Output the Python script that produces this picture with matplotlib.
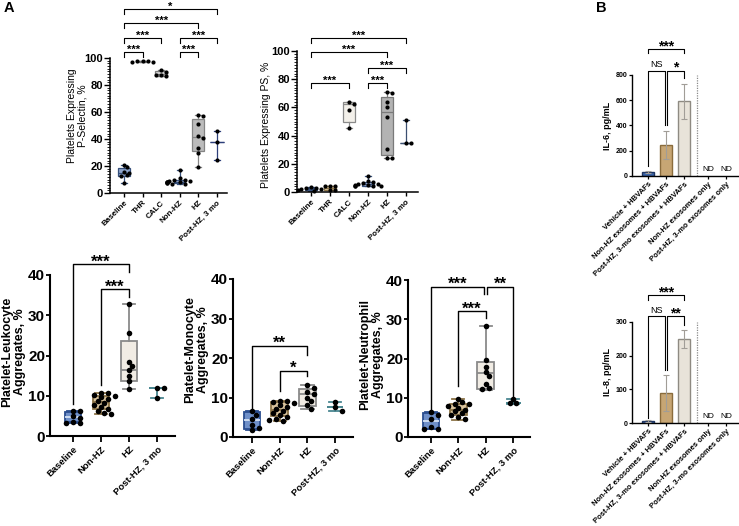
import matplotlib
matplotlib.use("Agg")
import matplotlib.pyplot as plt
import numpy as np

plt.rcParams['font.family'] = ['Liberation Sans', 'DejaVu Sans']

# ---------------- DATA ----------------
top_cats = ['Baseline', 'THR', 'CALC', 'Non-HZ', 'HZ', 'Post-HZ, 3 mo']
bot_cats = ['Baseline', 'Non-HZ', 'HZ', 'Post-HZ, 3 mo']
il_cats = ['Vehicle + HBVAFs', 'Non-HZ exosomes + HBVAFs', 'Post-HZ, 3-mo exosomes + HBVAFs',
           'Non-HZ exosomes only', 'Post-HZ, 3-mo exosomes only']

# P-selectin
psel_pts = [[21, 19, 15.5, 14.8, 13, 12.5, 7.5],
            [98, 97.8, 97.5, 97.3, 97.1],
            [90.8, 89.8, 87.6, 87.2, 86.8],
            [17, 11, 10, 9.5, 9, 9, 8.5, 8.5, 8, 8, 7.5, 7.5, 7, 7],
            [58, 57, 51, 42, 41, 33, 30, 19.5],
            [46, 37.5, 24.5]]
psel_q1 = [12.5, 97.2, 87.0, 7.5, 31, 37.5]
psel_med = [15, 97.5, 88.0, 8.5, 41.5, 37.5]
psel_q3 = [18.5, 97.8, 90.5, 9.5, 55, 37.5]
psel_lo = [7.5, 97.1, 86.8, 7, 19.5, 24.5]
psel_hi = [21, 98, 91, 17, 58, 46]

# PS
pss_pts = [[3.5, 3, 2.5, 2, 2, 1.5, 1],
           [4.6, 4.6, 4.4, 1.3, 1.1],
           [63.5, 62.5, 58.5, 45.7],
           [11.2, 8, 7, 6.5, 6, 5.5, 5, 5, 4.5, 4.5, 4, 4],
           [71, 70.3, 64, 60.5, 53, 30.7, 24, 24],
           [51.2, 35, 35]]
pss_q1 = [1.5, 1.2, 49.5, 4.5, 26, 35]
pss_med = [2, 2.5, 62.5, 5.5, 56.4, 35]
pss_q3 = [3, 4.5, 63.8, 7, 67.6, 35]
pss_lo = [1, 1.1, 45.7, 4, 24, 35]
pss_hi = [3.8, 4.6, 63.8, 11.2, 71, 51.2]

# Platelet-Leukocyte
lk_pts = [[6.3, 6.1, 5.0, 4.5, 3.5, 3.3, 3.2],
          [10.8, 10.6, 10.3, 10.0, 9.6, 9.2, 8.7, 8.2, 7.7, 7.2, 6.7, 6.2, 5.8, 5.4],
          [32.8, 25.7, 18.5, 17.5, 16.3, 15.0, 13.7, 11.8],
          [12, 12, 9.5]]
lk_q1 = [3.6, 6.6, 13.6, 12]
lk_med = [4.7, 8.4, 16.5, 12]
lk_q3 = [5.9, 9.9, 23.7, 12]
lk_lo = [3.2, 5.4, 11.6, 9.5]
lk_hi = [6.3, 10.8, 32.8, 12]

# Platelet-Monocyte
mo_pts = [[6.5, 5.5, 4.5, 3.0, 2.2, 1.8],
          [9.2, 9.0, 8.8, 8.5, 8.0, 7.5, 7.0, 6.5, 6.0, 5.5, 5.0, 4.5, 4.2, 4.0],
          [13.2, 12.5, 11.5, 11.0, 10.0, 9.0, 8.0, 7.0],
          [8.8, 7.5, 6.7]]
mo_q1 = [2.0, 5.4, 7.8, 7.5]
mo_med = [4.4, 6.9, 10.8, 7.5]
mo_q3 = [6.3, 8.8, 12.2, 7.5]
mo_lo = [1.8, 4.0, 7.0, 6.7]
mo_hi = [6.6, 9.2, 13.2, 8.8]

# Platelet-Neutrophil
ne_pts = [[6.3, 5.5, 4.5, 2.5, 2.0, 2.0],
          [9.8, 8.8, 8.5, 8.3, 8.0, 7.5, 7.0, 6.5, 6.0, 5.5, 5.0, 4.5],
          [28.4, 19.6, 17.8, 16.5, 15.5, 13.5, 12.5, 12.2],
          [9.8, 8.6, 8.6]]
ne_q1 = [2.0, 5.6, 12.2, 8.6]
ne_med = [4.2, 7.0, 16.3, 8.6]
ne_q3 = [6.0, 8.4, 19.0, 8.6]
ne_lo = [2.0, 4.3, 12.0, 8.3]
ne_hi = [6.3, 9.8, 28.4, 9.8]

# IL-6 / IL-8 (bars)
il6_mean = [30, 245, 592]
il6_sd = [6, 112, 138]
il8_mean = [7, 90, 250]
il8_sd = [3, 53, 27]
il_nd = ['ND', 'ND']

# ---------------- FIGURE ----------------
W, H = 739, 526
fig = plt.figure(figsize=(W / 100, H / 100), dpi=100)


def make_ax(l, r, b, t):
    return fig.add_axes([l / W, 1 - b / H, (r - l) / W, (b - t) / H])


def style_ax(ax, lw=1.2):
    for s in ['top', 'right']:
        ax.spines[s].set_visible(False)
    for s in ['left', 'bottom']:
        ax.spines[s].set_linewidth(lw)


def swarm_x(ax, x0, vals, diam):
    placed, out = [], []
    x0px = ax.transData.transform((x0, 0))[0]
    inv = ax.transData.inverted()
    for v in vals:
        ypx = ax.transData.transform((x0, v))[1]
        for k in [0, 1, -1, 2, -2, 3, -3, 4, -4, 5, -5]:
            xpx = x0px + k * diam * 0.62
            if all((xpx - px) ** 2 + (ypx - py) ** 2 >= (diam * 0.85) ** 2 for px, py in placed):
                break
        placed.append((xpx, ypx))
        out.append(inv.transform((xpx, ypx))[0])
    return out


def draw_group(ax, x, pts, q1, med, q3, lo, hi, fc, ec, w, capw, ms, lw=1.0, medc=None):
    st = dict(q1=q1, med=med, q3=q3, whislo=lo, whishi=hi, label='')
    ax.bxp([st], positions=[x], widths=[w], capwidths=[capw], patch_artist=True,
           showfliers=False, manage_ticks=False,
           boxprops=dict(facecolor=fc, edgecolor=ec, linewidth=lw),
           medianprops=dict(color=medc or ec, linewidth=lw),
           whiskerprops=dict(color=ec, linewidth=lw),
           capprops=dict(color=ec, linewidth=lw), zorder=2)
    xs = swarm_x(ax, x, pts, ms * 1.39)
    ax.plot(xs, pts, 'o', color='black', ms=ms, mec='black', mew=0, zorder=4, clip_on=False)


def bracket(ax, x1, x2, y, l1, l2, text, fs, dy_pt=0.0, lw=0.8, weight='bold'):
    ax.plot([x1, x1, x2, x2], [l1, y, y, l2], color='black', lw=lw, clip_on=False, zorder=5)
    ax.annotate(text, xy=((x1 + x2) / 2, y), xytext=(0, dy_pt), textcoords='offset points',
                ha='center', va='baseline', fontsize=fs, fontweight=weight,
                annotation_clip=False)


# ---------- Top-left: P-selectin ----------
ax1 = make_ax(110, 227, 193, 58)
ax1.set_xlim(-0.75, 5.55)
ax1.set_ylim(0, 100)
style_ax(ax1, 1.1)
top1_fc = ['#8fa5cb', '#dddddd', '#d6d6d6', '#a9b8d6', '#bcbcbc', 'none']
top1_ec = ['#36507c', '#777777', '#7d7d7d', '#36507c', '#858585', '#2d3f7a']
for i in range(6):
    w = 0.62 if i != 5 else 0.75
    draw_group(ax1, i, psel_pts[i], psel_q1[i], psel_med[i], psel_q3[i], psel_lo[i], psel_hi[i],
               top1_fc[i], top1_ec[i], w, 0.3, 3.0, lw=0.9)
ax1.set_yticks(np.arange(0, 101, 20))
ax1.set_yticks(np.arange(0, 101, 2), minor=True)
ax1.tick_params(axis='y', which='major', length=4, width=1.0, labelsize=8, pad=1)
ax1.tick_params(axis='y', which='minor', length=2, width=0.6)
ax1.set_xticks(range(6))
ax1.set_xticklabels(top_cats, rotation=45, ha='right', rotation_mode='anchor', fontsize=5.8,
                    fontweight='bold')
ax1.tick_params(axis='x', length=3, width=1.0, pad=1.5)
for t in ax1.get_yticklabels():
    t.set_fontweight('bold')
fig.text(77 / W, 1 - 116 / H, 'Platelets Expressing\nP-Selectin, %', rotation=90, ha='center',
         va='center', fontsize=7.5, multialignment='center', linespacing=1.1)
bracket(ax1, 0, 1, 104.5, 100.8, 100.8, '***', 8, -0.6)
bracket(ax1, 3, 4, 104.5, 100.8, 100.8, '***', 8, -0.6)
bracket(ax1, 0, 2, 115, 111.3, 111.3, '***', 8, -0.6)
bracket(ax1, 3, 5, 115, 111.3, 111.3, '***', 8, -0.6)
bracket(ax1, 0, 4, 126, 122.3, 122.3, '***', 8, -0.6)
bracket(ax1, 0, 5, 136.5, 132.8, 132.8, '*', 8, -0.6)

# ---------- Top-middle: PS ----------
ax2 = make_ax(297, 418, 192, 51)
ax2.set_xlim(-0.74, 5.63)
ax2.set_ylim(0, 100)
style_ax(ax2, 1.1)
top2_fc = ['#8fa5cb', '#ecdcb9', '#f3f0ea', '#a9b8d6', '#b3b3b3', 'none']
top2_ec = ['#36507c', '#8b7346', '#8a8a8a', '#36507c', '#7a7a7a', '#3b4f70']
for i in range(6):
    draw_group(ax2, i, pss_pts[i], pss_q1[i], pss_med[i], pss_q3[i], pss_lo[i], pss_hi[i],
               top2_fc[i], top2_ec[i], 0.62, 0.3, 3.0, lw=0.9)
ax2.set_yticks(np.arange(0, 101, 20))
ax2.set_yticks(np.arange(0, 101, 2), minor=True)
ax2.tick_params(axis='y', which='major', length=4, width=1.0, labelsize=8, pad=1)
ax2.tick_params(axis='y', which='minor', length=2, width=0.6)
ax2.set_xticks(range(6))
ax2.set_xticklabels(top_cats, rotation=45, ha='right', rotation_mode='anchor', fontsize=5.8,
                    fontweight='bold')
ax2.tick_params(axis='x', length=3, width=1.0, pad=1.5)
for t in ax2.get_yticklabels():
    t.set_fontweight('bold')
fig.text(266 / W, 1 - 125 / H, 'Platelets Expressing PS, %', rotation=90, ha='center',
         va='center', fontsize=7.5)
bracket(ax2, 0, 2, 77.5, 74, 74, '***', 8, -0.6)
bracket(ax2, 3, 4, 77.5, 74, 74, '***', 8, -0.6)
bracket(ax2, 3, 5, 88, 84.5, 84.5, '***', 8, -0.6)
bracket(ax2, 0, 4, 99, 95.5, 95.5, '***', 8, -0.6)
bracket(ax2, 0, 5, 109.5, 106, 106, '***', 8, -0.6)

# ---------- Bottom panels ----------
bot_fc = ['#6f90c9', '#d9c49e', '#f1ece4', 'none']
bot_ec = ['#2a4d8f', '#8b7346', '#8a8a8a', '#4a8791']
bot_medc = ['#d6e2f5', '#8b7346', '#8a8a8a', '#4a8791']


def bottom_panel(l, r, b, t, xl, pts, q1, med, q3, lo, hi, label, lx, ly):
    ax = make_ax(l, r, b, t)
    ax.set_xlim(*xl)
    ax.set_ylim(0, 40)
    style_ax(ax, 1.5)
    for i in range(4):
        w = 0.6 if i != 3 else 0.55
        draw_group(ax, i, pts[i], q1[i], med[i], q3[i], lo[i], hi[i],
                   bot_fc[i], bot_ec[i], w, 0.45, 4.0, lw=1.3, medc=bot_medc[i])
    ax.set_yticks(np.arange(0, 41, 10))
    ax.tick_params(axis='y', length=3, width=1.3, labelsize=11, pad=0.5)
    for tl in ax.get_yticklabels():
        tl.set_fontweight('bold')
    ax.set_xticks(range(4))
    ax.set_xticklabels(bot_cats, rotation=45, ha='right', rotation_mode='anchor', fontsize=6.8,
                       fontweight='bold')
    ax.tick_params(axis='x', length=4, width=1.3, pad=2)
    fig.text(lx / W, 1 - ly / H, label, rotation=90, ha='center', va='center', fontsize=9,
             fontweight='bold', multialignment='center', linespacing=1.1)
    return ax


ax3 = bottom_panel(50, 175, 436, 275, (-0.82, 3.64), lk_pts, lk_q1, lk_med, lk_q3, lk_lo, lk_hi,
                   'Platelet-Leukocyte\nAggregates, %', 14, 352)
bracket(ax3, 0, 2, 42.7, 8.0, 40.8, '***', 12, -1.8, lw=1.0)
bracket(ax3, 1, 2, 36.4, 12.6, 34.6, '***', 12, -1.8, lw=1.0)

ax4 = bottom_panel(233, 353, 437, 279, (-0.69, 3.65), mo_pts, mo_q1, mo_med, mo_q3, mo_lo, mo_hi,
                   'Platelet-Monocyte\nAggregates, %', 197, 350)
bracket(ax4, 0, 2, 23.1, 7.0, 20.8, '**', 12, -1.5, lw=1.0)
bracket(ax4, 1, 2, 16.8, 11.6, 15.4, '*', 12, -1.2, lw=1.0)

ax5 = bottom_panel(408, 530, 437, 280, (-0.84, 3.62), ne_pts, ne_q1, ne_med, ne_q3, ne_lo, ne_hi,
                   'Platelet-Neutrophil\nAggregates, %', 372, 355)
bracket(ax5, 0, 1.94, 38.3, 7.0, 36.4, '***', 12, -1.8, lw=1.0)
bracket(ax5, 2.06, 3, 38.3, 36.4, 9.5, '**', 12, -1.8, lw=1.0)
bracket(ax5, 1, 2, 32.1, 12.9, 30.4, '***', 12, -1.8, lw=1.0)

# ---------- Panel B: bars ----------
bar_fc = ['#3d66aa', '#c7a674', '#e8e3d9']
bar_ec = ['#1f3560', '#8a6c3c', '#8e8a82']
il_pos = [0, 1, 2, 3.33, 4.33]


def il_panel(b, t, ymax, yticks, means, sds, label, ly, br):
    ax = make_ax(632, 738, b, t)
    ax.set_xlim(-0.89, 5.0)
    ax.set_ylim(0, ymax)
    style_ax(ax, 1.0)
    ax.bar(il_pos[:3], means, width=0.62, color=bar_fc, edgecolor=bar_ec, linewidth=1.0, zorder=2)
    ax.errorbar(il_pos[:3], means, yerr=sds, fmt='none', ecolor='#a19d97', elinewidth=0.8,
                capsize=2.2, capthick=0.8, zorder=3)
    for xp, nd in zip(il_pos[3:], il_nd):
        ax.text(xp, ymax * 0.025, nd, ha='center', va='bottom', fontsize=6)
    ax.axvline(2.72, ymin=0, ymax=1, color='#8a8a8a', lw=0.9, ls=(0, (1, 1)))
    ax.set_yticks(yticks)
    ax.tick_params(axis='y', length=2.5, width=0.9, labelsize=5, pad=1)
    for tl in ax.get_yticklabels():
        tl.set_fontweight('bold')
    ax.set_xticks(il_pos)
    ax.set_xticklabels(il_cats, rotation=45, ha='right', rotation_mode='anchor', fontsize=5.5,
                       fontweight='bold')
    ax.tick_params(axis='x', length=2.5, width=0.9, pad=1)
    fig.text(608 / W, 1 - ly / H, label, rotation=90, ha='center', va='center', fontsize=6.5,
             fontweight='bold')
    for (x1, x2, y, l1, l2, txt, fs, dy, wt) in br:
        bracket(ax, x1, x2, y, l1, l2, txt, fs, dy, lw=0.8, weight=wt)
    return ax


il_panel(176, 75, 800, [0, 200, 400, 600, 800], il6_mean, il6_sd, 'IL-6, pg/mL', 126,
         [(0, 2, 1002, 971, 971, '***', 10, -0.7, 'bold'),
          (0, 0.92, 832, 79, 400, 'NS', 6.5, 2.5, 'normal'),
          (1.08, 2, 832, 400, 774, '*', 10, -0.2, 'bold')])
il_panel(423, 322, 300, [0, 100, 200, 300], il8_mean, il8_sd, 'IL-8, pg/mL', 372,
         [(0, 2, 380.6, 366, 366, '***', 10, -1.0, 'bold'),
          (0, 0.92, 317.7, 15, 157, 'NS', 6.5, 2.5, 'normal'),
          (1.08, 2, 317.7, 157, 291, '**', 10, -1.0, 'bold')])

fig.text(4 / W, 1 - 8.5 / H, 'A', fontsize=10.5, fontweight='bold', ha='left', va='center')
fig.text(596 / W, 1 - 8.5 / H, 'B', fontsize=10.5, fontweight='bold', ha='left', va='center')

fig.savefig('out.png', dpi=100)
